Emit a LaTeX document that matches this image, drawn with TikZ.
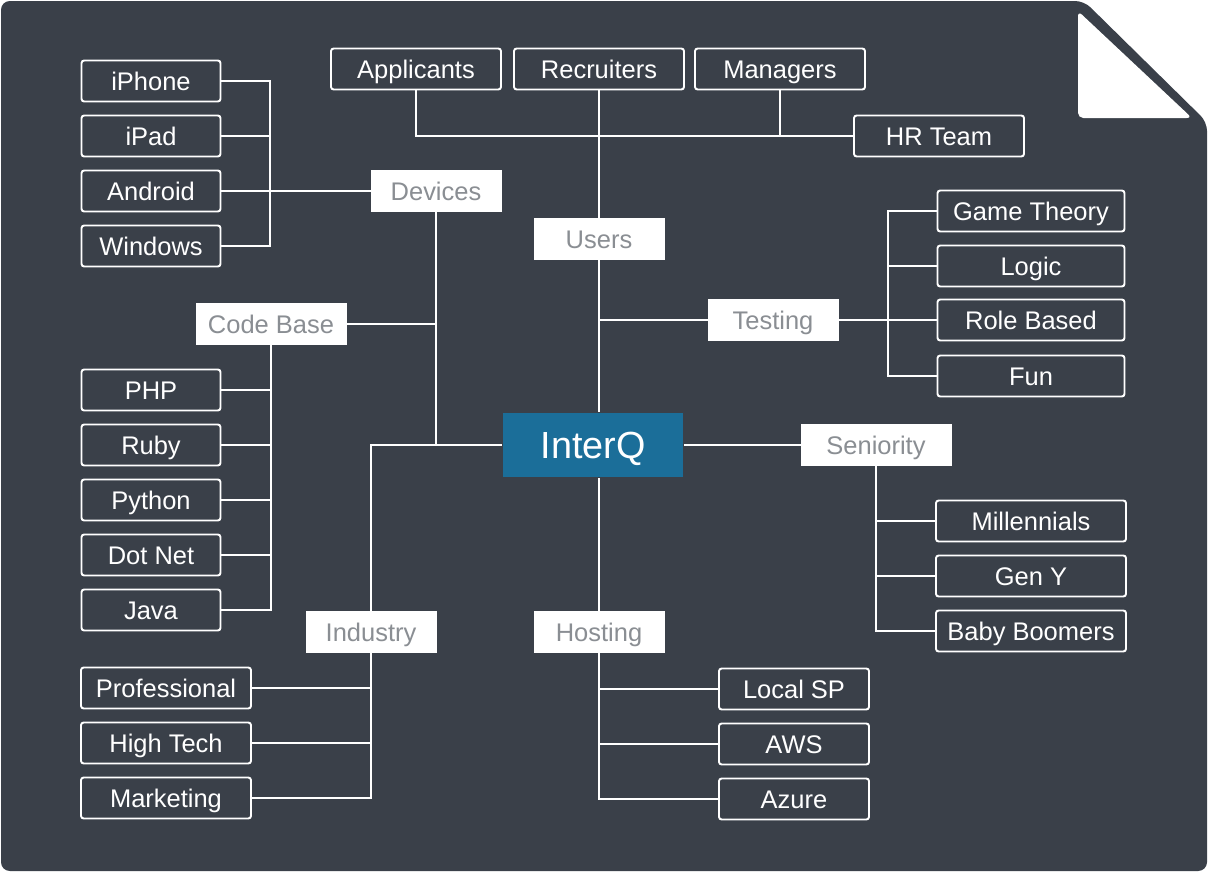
\documentclass[tikz,border=0pt]{standalone}
\usepackage{fontspec}
\setmainfont{Liberation Sans}
\usetikzlibrary{positioning,calc}
\definecolor{slate}{HTML}{3A4049}
\definecolor{hubblue}{HTML}{1B6E99}
\definecolor{catgray}{HTML}{8A8E93}
\tikzset{
  leaf/.style={draw=white,fill=slate,line width=1.1pt,rounded corners=1.5pt,
               minimum width=#1,minimum height=0.82cm,inner sep=0pt,
               text height=10.4pt,text depth=0pt,
               font=\fontsize{14.5}{16}\selectfont,text=white},
  leaf/.default=2.78cm,
  cat/.style={fill=white,draw=white,line width=0.4pt,
              minimum width=#1,minimum height=0.82cm,inner sep=0pt,
              text height=10.4pt,text depth=0pt,
              font=\fontsize{14.5}{16}\selectfont,text=catgray},
  cat/.default=2.6cm,
  hub/.style={fill=hubblue,minimum width=3.62cm,minimum height=1.3cm,
              inner sep=0pt,text height=15.4pt,text depth=0pt,
              font=\fontsize{21.5}{24}\selectfont,text=white},
  link/.style={draw=white,line width=1.1pt}
}

\begin{document}
\begin{tikzpicture}[x=0.02cm,y=-0.02cm]
    \path[use as bounding box,fill=white] (0,0) rectangle (1208,872);
    % page with folded corner
    \fill[slate,rounded corners=5pt] (1,1) -- (1084,1) -- (1207,122)
      -- (1207,871) -- (1,871) -- cycle;
    \fill[white,rounded corners=3pt] (1078,11) -- (1078,118) -- (1192,118) -- cycle;

    \node[hub] (hub) at (593,445) {InterQ};

    % users
    \node[leaf=3.4cm] (applicants) at (416,69) {Applicants};
    \node[leaf=3.4cm] (recruiters) at (599,69) {Recruiters};
    \node[leaf=3.4cm] (managers) at (780,69) {Managers};
    \node[leaf=3.4cm] (hrteam) at (939,136) {HR Team};
    \node[cat] (users) at (599,239) {Users};

    % devices
    \node[leaf] (iphone) at (151,81) {iPhone};
    \node[leaf] (ipad) at (151,136) {iPad};
    \node[leaf] (android) at (151,191) {Android};
    \node[leaf] (windows) at (151,246) {Windows};
    \node[cat] (devices) at (436,191) {Devices};
    \coordinate (devbus) at (270,191);

    % code base
    \node[cat=3cm] (codebase) at (271,324) {Code Base};
    \node[leaf] (php) at (151,390) {PHP};
    \node[leaf] (ruby) at (151,445) {Ruby};
    \node[leaf] (python) at (151,500) {Python};
    \node[leaf] (dotnet) at (151,555) {Dot Net};
    \node[leaf] (java) at (151,610) {Java};

    % industry
    \node[cat] (industry) at (371,632) {Industry};
    \node[leaf=3.4cm] (professional) at (166,688) {Professional};
    \node[leaf=3.4cm] (hightech) at (166,743) {High Tech};
    \node[leaf=3.4cm] (marketing) at (166,798) {Marketing};

    % hosting
    \node[cat] (hosting) at (599,632) {Hosting};
    \node[leaf=3cm] (localsp) at (794,689) {Local SP};
    \node[leaf=3cm] (aws) at (794,744) {AWS};
    \node[leaf=3cm] (azure) at (794,799) {Azure};

    % testing
    \node[cat] (testing) at (773,320) {Testing};
    \node[leaf=3.74cm] (gametheory) at (1031,211) {Game Theory};
    \node[leaf=3.74cm] (logic) at (1031,266) {Logic};
    \node[leaf=3.74cm] (rolebased) at (1031,320) {Role Based};
    \node[leaf=3.74cm] (fun) at (1031,376) {Fun};
    \coordinate (testbus) at (888,320);

    % seniority
    \node[cat=3cm] (seniority) at (876,445) {Seniority};
    \node[leaf=3.8cm] (millennials) at (1031,521) {Millennials};
    \node[leaf=3.8cm] (geny) at (1031,576) {Gen Y};
    \node[leaf=3.8cm] (babyboomers) at (1031,631) {Baby Boomers};

    % connectors
    \draw[link] (applicants.south) |- (hrteam.west);
    \draw[link] (managers.south) -- (managers.south |- hrteam.west);
    \draw[link] (recruiters.south) -- (users.north);
    \draw[link] (users.south) -- (users.south |- hub.north);
    \draw[link] (testing.west) -- (testing.west -| users.south);

    \draw[link] (iphone.east) -| (devbus) |- (windows.east);
    \draw[link] (ipad.east) -- (ipad.east -| devbus);
    \draw[link] (android.east) -- (devices.west);
    \draw[link] (devices.south) |- (hub.west);
    \draw[link] (codebase.east) -- (codebase.east -| devices.south);

    \draw[link] (codebase.south) |- (java.east);
    \foreach \lang in {php,ruby,python,dotnet}
      \draw[link] (\lang.east) -- (\lang.east -| codebase.south);

    \draw[link] (industry.north) |- (hub.west);
    \draw[link] (industry.south) |- (marketing.east);
    \foreach \ind in {professional,hightech}
      \draw[link] (\ind.east) -- (\ind.east -| industry.south);

    \draw[link] (hosting.north) -- (hosting.north |- hub.south);
    \draw[link] (hosting.south) |- (azure.west);
    \foreach \host in {localsp,aws}
      \draw[link] (\host.west) -- (\host.west -| hosting.south);

    \draw[link] (gametheory.west) -| (testbus) |- (fun.west);
    \draw[link] (logic.west) -- (logic.west -| testbus);
    \draw[link] (testing.east) -- (rolebased.west);

    \draw[link] (hub.east) -- (seniority.west);
    \draw[link] (seniority.south) |- (babyboomers.west);
    \foreach \gen in {millennials,geny}
      \draw[link] (\gen.west) -- (\gen.west -| seniority.south);
  \end{tikzpicture}
\end{document}
